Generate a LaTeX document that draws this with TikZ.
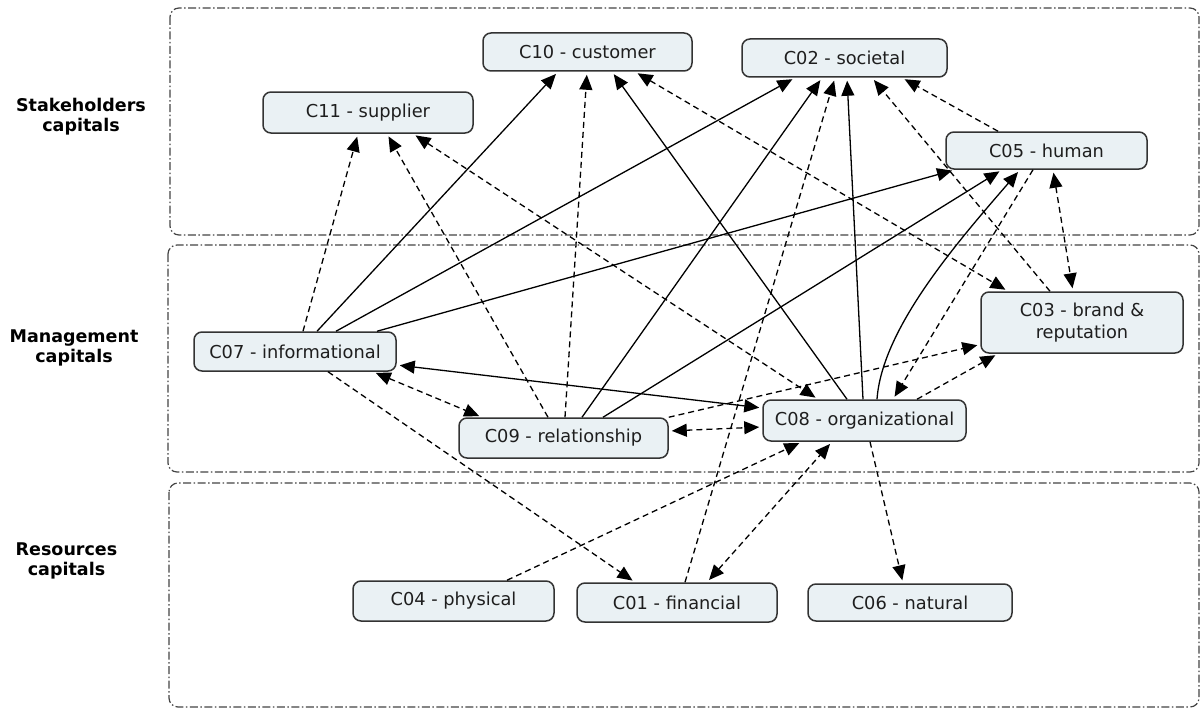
\documentclass[tikz,border=0pt]{standalone}
\usepackage{fontspec}
\setmainfont{DejaVu Sans}
\usetikzlibrary{arrows.meta}
\definecolor{boxfill}{HTML}{EAF1F4}
\definecolor{boxline}{HTML}{333333}
\definecolor{grpline}{HTML}{444444}
\definecolor{txt}{HTML}{1E1E1E}
\begin{document}
\begin{tikzpicture}[x=1pt,y=-1pt,
  capbox/.style={draw=boxline, fill=boxfill, line width=1.5pt, rounded corners=8pt,
    minimum width=203pt, minimum height=39pt, inner sep=2pt, text=txt,
    font=\fontsize{17.8}{22}\selectfont, align=center},
  grp/.style={draw=grpline, line width=1.2pt, rounded corners=9pt,
    dash pattern=on 8pt off 2.5pt on 1.5pt off 2.5pt},
  lab/.style={font=\fontsize{17.5}{20}\selectfont\bfseries, align=center, text=black},
  link/.style={draw=black, line width=1.3pt, -{Triangle[length=15pt,width=13pt]}, shorten >=3pt},
  both/.style={draw=black, line width=1.3pt,
    {Triangle[length=15pt,width=13pt]}-{Triangle[length=15pt,width=13pt]},
    shorten >=3pt, shorten <=3pt},
  dsh/.style={dash pattern=on 6pt off 4pt}
]
\useasboundingbox (0,0) rectangle (1202,709);

% group frames
\draw[grp] (170,8) rectangle (1199,235);
\draw[grp] (168,245) rectangle (1199,472);
\draw[grp] (169,483) rectangle (1199,707);

% group labels
\node[lab] (ls) at (81,117) {Stakeholders\\capitals};
\node[lab] (lm) at (74,348) {Management\\capitals};
\node[lab] (lr) at (66.5,561) {Resources\\capitals};

% capital nodes
\node[capbox, minimum width=209pt, minimum height=38pt] (c10) at (587.5,52) {C10 - customer};
\node[capbox, minimum width=205pt, minimum height=38pt] (c02) at (844.5,58) {C02 - societal};
\node[capbox, minimum width=210pt, minimum height=41pt] (c11) at (368,112.5) {C11 - supplier};
\node[capbox, minimum width=201pt, minimum height=37pt] (c05) at (1046.5,150.5) {C05 - human};
\node[capbox, minimum width=202pt, minimum height=61pt] (c03) at (1082,322.5) {C03 - brand \&\\reputation};
\node[capbox, minimum width=202pt, minimum height=39pt] (c07) at (295,351.5) {C07 - informational};
\node[capbox, minimum width=209pt, minimum height=40pt] (c09) at (563.5,438) {C09 - relationship};
\node[capbox, minimum width=203pt, minimum height=41pt] (c08) at (864.5,420.5) {C08 - organizational};
\node[capbox, minimum width=201pt, minimum height=40pt] (c04) at (453.5,601) {C04 - physical};
\node[capbox, minimum width=200pt, minimum height=39pt] (c01) at (677,602.5) {C01 - financial};
\node[capbox, minimum width=204pt, minimum height=37pt] (c06) at (910,602.5) {C06 - natural};

% solid connectors
\draw[link] ([xshift=22pt]c07.north) -- ([xshift=-29.5pt]c10.south);
\draw[link] ([xshift=41pt]c07.north) -- ([xshift=-49.5pt]c02.south);
\draw[link] ([xshift=82pt]c07.north) -- ([xshift=-91.5pt]c05.south);
\draw[both] ([yshift=-13.5pt]c07.east) -- ([yshift=12.5pt]c08.west);
\draw[link] ([xshift=-17.5pt]c08.north) -- ([xshift=24.5pt]c10.south);
\draw[link] ([xshift=-1.5pt]c08.north) -- ([xshift=2.5pt]c02.south);
\draw[link] ([xshift=12.5pt]c08.north) .. controls +(5,-70) and +(-65,75) .. ([xshift=-26.5pt]c05.south);
\draw[link] ([xshift=18.5pt]c09.north) -- ([xshift=-22.5pt]c02.south);
\draw[link] ([xshift=39.5pt]c09.north) -- ([xshift=-44.5pt]c05.south);

% dashed connectors
\draw[link,dsh] ([xshift=8pt]c07.north) -- ([xshift=-10pt]c11.south);
\draw[link,dsh] ([xshift=-15.5pt]c09.north) -- ([xshift=19pt]c11.south);
\draw[both,dsh] ([xshift=45pt]c11.south) -- ([xshift=-46.5pt]c08.north);
\draw[link,dsh] ([xshift=1.5pt]c09.north) -- ([xshift=-0.5pt]c10.south);
\draw[both,dsh] ([xshift=47.5pt]c10.south) -- ([xshift=-74pt]c03.north);
\draw[link,dsh] ([xshift=-32pt]c03.north) -- ([xshift=27.5pt]c02.south);
\draw[link,dsh] ([xshift=-48.5pt]c05.north) -- ([xshift=57.5pt]c02.south);
\draw[both,dsh] ([xshift=6.5pt]c05.south) -- ([xshift=-9pt]c03.north);
\draw[link,dsh] ([xshift=-13.5pt]c05.south) -- ([xshift=28.5pt]c08.north);
\draw[link,dsh] ([xshift=52.5pt]c08.north) -- ([xshift=-84pt]c03.south);
\draw[link,dsh] (c09.north east) -- ([yshift=-22pt]c03.west);
\draw[both,dsh] ([yshift=7pt]c09.east) -- ([yshift=-6.5pt]c08.west);
\draw[both,dsh] ([xshift=78pt]c07.south) -- ([xshift=-81.5pt]c09.north);
\draw[link,dsh] ([xshift=33pt]c07.south) -- ([xshift=-42pt]c01.north);
\draw[link,dsh] ([xshift=53.5pt]c04.north) -- ([xshift=-62.5pt]c08.south);
\draw[both,dsh] ([xshift=30pt]c01.north) -- ([xshift=-32.5pt]c08.south);
\draw[link,dsh] ([xshift=8pt]c01.north) -- ([xshift=-9.5pt]c02.south);
\draw[link,dsh] ([xshift=5.5pt]c08.south) -- ([xshift=-7pt]c06.north);
\end{tikzpicture}
\end{document}
